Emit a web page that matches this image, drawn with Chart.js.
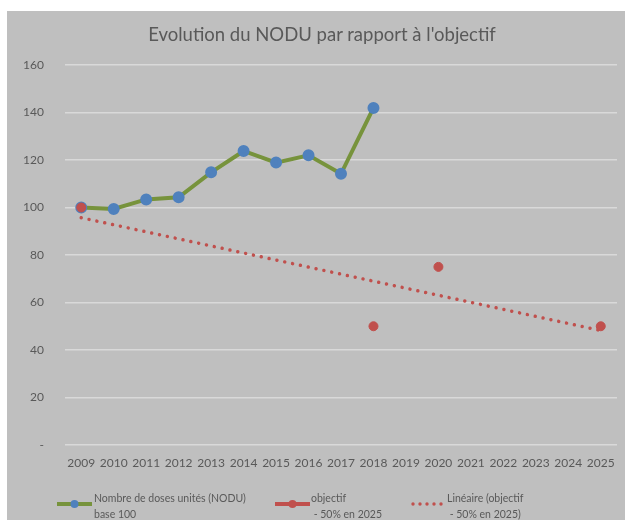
<!DOCTYPE html>
<html>
<head>
<meta charset="utf-8">
<script src="https://cdn.jsdelivr.net/npm/chart.js@4.4.0/dist/chart.umd.min.js"></script>
<style>
  body { margin: 0; background: #fff; font-family: Lato, sans-serif; }
  #panel { position: absolute; left: 7px; top: 11px; width: 618px; height: 509px; background: #bfbfbf; }
  #chart { position: absolute; left: 0; top: 0; }
  #title { position: absolute; left: 0; width: 630px; top: 12px; text-align: center; font-size: 18.5px; color: #595959; }
  .legend { position: absolute; font-size: 10.5px; color: #595959; line-height: 16px; }
  .sym { position: absolute; }
</style>
</head>
<body>
<div id="panel">
  <canvas id="chart" width="618" height="509"></canvas>
  <div id="title">Evolution du NODU par rapport à l'objectif</div>
  <div class="sym" id="s1"></div>
  <div class="legend" style="left:87px; top:479px;">Nombre de doses unités (NODU)<br>base 100</div>
  <div class="sym" id="s2"></div>
  <div class="legend" style="left:304px; top:479px;">objectif<br>&nbsp;- 50% en 2025</div>
  <div class="sym" id="s3"></div>
  <div class="legend" style="left:440px; top:479px;">Linéaire (objectif<br>&nbsp;- 50% en 2025)</div>
</div>
<script>
// Categories and series
const years = ['2009', '2010', '2011', '2012', '2013', '2014', '2015', '2016', '2017',
  '2018', '2019', '2020', '2021', '2022', '2023', '2024', '2025'];
const nodu = [100, 99.4, 103.4, 104.3, 114.8, 123.8, 118.9, 122, 114.2, 141.9,
  null, null, null, null, null, null, null];
const objectif = [100, null, null, null, null, null, null, null, null, 50,
  null, 75, null, null, null, null, 50];
const lineaire = [95.7, null, null, null, null, null, null, null, null, null,
  null, null, null, null, null, null, 48.2];
const yTicks = [0, 20, 40, 60, 80, 100, 120, 140, 160];

const grey = '#595959';
const green = '#77933c';
const blue = '#4f81bd';
const red = '#c0504d';

// Legend symbols drawn as small canvases
function legendSymbol(id, left, kind) {
  const c = document.createElement('canvas');
  c.width = 40; c.height = 10;
  const g = c.getContext('2d');
  if (kind === 'dots') {
    g.fillStyle = red;
    for (let i = 0; i < 5; i++) {
      g.beginPath(); g.arc(3 + i * 7, 5, 1.7, 0, Math.PI * 2); g.fill();
    }
  } else {
    g.strokeStyle = kind === 'nodu' ? green : red;
    g.lineWidth = 4;
    g.beginPath(); g.moveTo(0, 5); g.lineTo(35, 5); g.stroke();
    g.fillStyle = kind === 'nodu' ? blue : red;
    g.beginPath(); g.arc(17.5, 5, 4, 0, Math.PI * 2); g.fill();
  }
  const el = document.getElementById(id);
  el.style.left = left + 'px';
  el.style.top = '482px';
  el.appendChild(c);
}
legendSymbol('s1', 50, 'nodu');
legendSymbol('s2', 268, 'obj');
legendSymbol('s3', 403, 'dots');

new Chart(document.getElementById('chart'), {
  type: 'line',
  data: {
    labels: years,
    datasets: [
      {
        label: 'Linéaire (objectif - 50% en 2025)',
        data: lineaire,
        spanGaps: true,
        borderColor: red,
        borderWidth: 3.5,
        borderDash: [0.01, 8],
        borderCapStyle: 'round',
        pointRadius: 0,
        order: 3
      },
      {
        label: 'Nombre de doses unités (NODU) base 100',
        data: nodu,
        borderColor: green,
        borderWidth: 4,
        pointBackgroundColor: blue,
        pointBorderColor: blue,
        pointRadius: 4,
        order: 2
      },
      {
        label: 'objectif - 50% en 2025',
        data: objectif,
        showLine: false,
        pointBackgroundColor: red,
        pointBorderColor: red,
        pointRadius: 4.5,
        order: 1
      }
    ]
  },
  options: {
    responsive: false,
    animation: false,
    layout: { padding: { left: 0, right: 6, top: 54, bottom: 45 } },
    plugins: {
      legend: { display: false },
      tooltip: { enabled: false },
      title: { display: false }
    },
    scales: {
      x: {
        offset: true,
        grid: { display: false },
        border: { display: false },
        ticks: {
          color: grey,
          font: { family: 'Lato', size: 12 },
          maxRotation: 0,
          autoSkip: false,
          padding: 3
        },
        afterFit: s => { s.height = 30; }
      },
      y: {
        min: 0,
        max: 160,
        afterBuildTicks: s => { s.ticks = yTicks.map(v => ({ value: v })); },
        grid: { color: '#d9d9d9', lineWidth: 1.5, drawTicks: false },
        border: { display: false },
        ticks: {
          color: grey,
          font: { family: 'Lato', size: 12 },
          padding: 21,
          callback: v => v === 0 ? '-' : v
        },
        afterFit: s => { s.width = 58; }
      }
    }
  }
});
</script>
</body>
</html>
